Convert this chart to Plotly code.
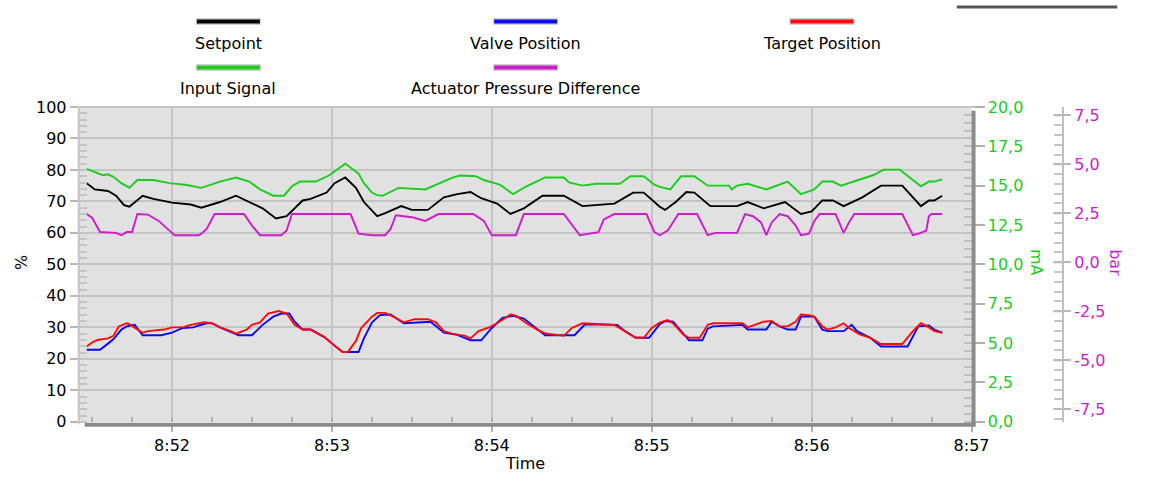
import pandas as pd
import plotly.graph_objects as go

# the page adds an 8px body margin on every side; the figure fills the rest
PAGE_W, PAGE_H, BODY_MARGIN = 1167, 492, 8
W, H = PAGE_W - 2 * BODY_MARGIN, PAGE_H - 2 * BODY_MARGIN
BASE = "2024-01-01 08:52:00"

# ---- data (seconds relative to 08:52:00) ----
setpoint_t = [-32, -29, -24, -21, -18, -16, -11, -7, 0, 7, 11, 18, 24, 29, 34, 39, 43, 49, 52, 58, 61, 65, 69, 72, 75, 77, 80, 86, 90, 96, 102, 107, 112, 116, 122, 127, 132, 139, 147, 154, 166, 173, 177, 183, 185, 189, 193, 196, 202, 212, 216, 222, 230, 236, 240, 244, 248, 252, 259, 266, 274, 278, 281, 284, 286, 289]
setpoint_v = [75.8, 73.8, 73.3, 71.8, 68.8, 68.3, 71.8, 70.8, 69.6, 69.0, 68.0, 69.8, 71.8, 69.8, 67.8, 64.6, 65.3, 70.3, 70.8, 72.8, 75.8, 77.6, 74.3, 69.8, 67.3, 65.3, 66.3, 68.5, 67.3, 67.3, 71.3, 72.3, 73.0, 71.0, 69.3, 66.0, 67.8, 71.8, 71.8, 68.5, 69.3, 72.8, 72.8, 68.3, 67.3, 69.8, 73.0, 72.8, 68.5, 68.5, 69.8, 67.8, 69.8, 66.0, 66.8, 70.3, 70.3, 68.5, 71.3, 75.0, 75.0, 71.3, 68.5, 70.3, 70.3, 71.8]

valve_t = [-32, -27, -25, -22, -19, -17, -14, -11, -4, 0, 4, 8, 10, 13, 15, 18, 25, 30, 34, 38, 41, 44, 46, 49, 52, 57, 61, 64, 70, 72, 75, 78, 82, 87, 97, 102, 107, 112, 116, 120, 124, 128, 132, 137, 140, 151, 155, 167, 170, 174, 179, 183, 185, 188, 192, 194, 199, 201, 203, 214, 216, 223, 225, 228, 231, 234, 236, 241, 244, 246, 252, 255, 257, 262, 266, 276, 280, 284, 286, 289]
valve_v = [22.9, 22.9, 24.2, 26.2, 29.3, 30.3, 30.8, 27.5, 27.5, 28.3, 29.8, 30.0, 30.6, 31.3, 31.3, 30.0, 27.5, 27.5, 30.8, 33.4, 34.4, 34.4, 31.8, 29.3, 29.3, 27.0, 24.2, 22.2, 22.2, 26.5, 31.5, 33.9, 34.1, 31.3, 31.8, 28.3, 27.6, 25.9, 25.9, 29.8, 33.0, 33.7, 32.8, 29.3, 27.5, 27.5, 31.0, 30.8, 28.8, 26.7, 26.7, 31.0, 32.0, 31.8, 27.8, 25.9, 25.9, 29.6, 30.3, 30.8, 29.3, 29.3, 31.8, 30.3, 29.3, 29.3, 33.4, 33.4, 29.3, 28.8, 28.8, 30.8, 28.8, 26.7, 23.9, 23.9, 30.3, 30.6, 29.3, 28.3]

target_t = [-32, -30, -28, -24, -22, -20, -17, -16, -13, -11, -9, -3, 0, 4, 7, 12, 15, 18, 22, 24, 28, 30, 33, 36, 40, 43, 46, 49, 52, 57, 61, 64, 66, 69, 71, 75, 77, 80, 83, 87, 91, 96, 99, 102, 105, 110, 112, 115, 119, 122, 127, 129, 133, 137, 140, 147, 150, 154, 166, 170, 174, 177, 180, 183, 186, 188, 192, 194, 198, 201, 203, 214, 216, 222, 225, 228, 231, 234, 236, 239, 241, 244, 246, 249, 252, 254, 258, 262, 266, 274, 278, 281, 284, 286, 289]
target_v = [23.9, 25.2, 26.0, 26.5, 27.3, 30.3, 31.3, 31.0, 29.3, 28.3, 28.8, 29.3, 30.0, 30.0, 30.8, 31.6, 31.3, 30.0, 28.8, 28.0, 29.3, 30.8, 31.6, 34.4, 35.2, 34.4, 30.8, 29.3, 29.3, 27.0, 24.2, 22.2, 22.2, 25.7, 29.8, 33.4, 34.6, 34.6, 33.4, 31.6, 32.6, 32.6, 31.6, 28.8, 28.0, 27.3, 26.5, 28.8, 30.0, 31.3, 34.1, 33.7, 31.3, 29.3, 28.1, 27.3, 29.8, 31.3, 30.8, 28.8, 26.7, 26.7, 29.8, 31.5, 32.3, 31.3, 27.6, 26.7, 26.7, 30.8, 31.3, 31.3, 30.0, 31.8, 32.0, 30.3, 30.3, 31.8, 34.1, 33.9, 33.4, 30.3, 29.3, 30.0, 31.3, 29.8, 27.8, 26.7, 24.7, 24.7, 28.8, 31.3, 30.0, 28.8, 28.3]

input_t = [-32, -28, -26, -24, -22, -19, -16, -13, -7, -1, 5, 11, 18, 24, 29, 33, 38, 42, 45, 48, 54, 59, 65, 70, 72, 75, 77, 79, 85, 95, 100, 105, 108, 114, 117, 123, 128, 133, 140, 147, 149, 154, 159, 168, 172, 177, 181, 183, 187, 191, 196, 201, 209, 210, 212, 216, 223, 231, 236, 241, 244, 248, 251, 257, 263, 267, 273, 278, 281, 284, 286, 289]
input_v = [16.06, 15.8, 15.66, 15.72, 15.56, 15.16, 14.86, 15.36, 15.36, 15.16, 15.06, 14.86, 15.26, 15.52, 15.26, 14.76, 14.36, 14.36, 14.96, 15.26, 15.26, 15.66, 16.4, 15.76, 15.16, 14.56, 14.4, 14.36, 14.86, 14.76, 15.12, 15.5, 15.64, 15.6, 15.36, 15.06, 14.46, 14.96, 15.52, 15.52, 15.2, 15.0, 15.12, 15.12, 15.6, 15.6, 15.06, 14.92, 14.76, 15.6, 15.6, 15.0, 15.0, 14.76, 15.0, 15.12, 14.76, 15.26, 14.46, 14.76, 15.26, 15.26, 15.0, 15.32, 15.66, 16.02, 16.02, 15.36, 14.96, 15.26, 15.26, 15.4]

pressure_t = [-32, -30, -27, -21, -19, -17, -15, -13, -9, -5, 0, 1, 10, 11, 13, 16, 27, 30, 33, 41, 43, 45, 67, 70, 75, 80, 82, 84, 90, 95, 100, 113, 117, 120, 129, 132, 147, 153, 160, 162, 166, 178, 181, 183, 186, 190, 197, 199, 201, 204, 212, 215, 218, 221, 223, 225, 228, 231, 234, 236, 239, 241, 243, 249, 250, 252, 254, 256, 274, 276, 278, 281, 283, 284, 285, 289]
pressure_v = [2.46, 2.27, 1.54, 1.50, 1.38, 1.54, 1.54, 2.46, 2.43, 2.11, 1.50, 1.38, 1.38, 1.46, 1.70, 2.46, 2.46, 1.87, 1.38, 1.38, 1.62, 2.46, 2.46, 1.46, 1.38, 1.38, 1.70, 2.40, 2.30, 2.11, 2.46, 2.46, 2.11, 1.38, 1.38, 2.46, 2.46, 1.38, 1.54, 2.19, 2.46, 2.46, 1.54, 1.38, 1.62, 2.46, 2.46, 1.95, 1.38, 1.50, 1.50, 2.46, 2.35, 2.03, 1.38, 2.03, 2.46, 2.35, 1.87, 1.38, 1.46, 2.11, 2.46, 2.46, 2.11, 1.50, 2.03, 2.46, 2.46, 1.95, 1.38, 1.50, 1.62, 2.35, 2.46, 2.46]

series_names = ["Setpoint", "Valve Position", "Target Position", "Input Signal", "Actuator Pressure Difference"]
series_colors = ["#000000", "#0a0aee", "#ff0a0a", "#1ccc1c", "#cc1ccc"]

pct_ticks = list(range(0, 101, 10))
ma_ticks = [0, 2.5, 5, 7.5, 10, 12.5, 15, 17.5, 20]
bar_ticks = [-7.5, -5, -2.5, 0, 2.5, 5, 7.5]
bar_tick_labels = ["-7,5", "-5,0", "-2,5", "0,0", "2,5", "5,0", "7,5"]
x_tick_minutes = ["08:52", "08:53", "08:54", "08:55", "08:56", "08:57"]


def to_time(secs):
    return pd.Timestamp(BASE) + pd.to_timedelta(secs, unit="s")


def px(x):
    """page pixel x -> paper coordinate"""
    return (x - BODY_MARGIN) / W


def py(y):
    """page pixel y -> paper coordinate"""
    return 1 - (y - BODY_MARGIN) / H


FONT = "DejaVu Sans"
GREEN = "#1ccc1c"
MAGENTA = "#cc1ccc"
TICKSIZE = 16
LW = 1.9

fig = go.Figure()
fig.add_trace(go.Scatter(x=to_time(input_t), y=input_v, yaxis="y2", mode="lines",
                         line=dict(color=series_colors[3], width=LW), name=series_names[3]))
fig.add_trace(go.Scatter(x=to_time(setpoint_t), y=setpoint_v, mode="lines",
                         line=dict(color=series_colors[0], width=LW), name=series_names[0]))
fig.add_trace(go.Scatter(x=to_time(pressure_t), y=pressure_v, yaxis="y3", mode="lines",
                         line=dict(color=series_colors[4], width=LW), name=series_names[4]))
fig.add_trace(go.Scatter(x=to_time(valve_t), y=valve_v, mode="lines",
                         line=dict(color=series_colors[1], width=LW), name=series_names[1]))
fig.add_trace(go.Scatter(x=to_time(target_t), y=target_v, mode="lines",
                         line=dict(color=series_colors[2], width=LW), name=series_names[2]))

x_left, x_right, y_top, y_bot = 88, 995, 110, 438

fig.update_layout(
    width=W, height=H,
    margin=dict(l=0, r=0, t=0, b=0),
    paper_bgcolor="white", plot_bgcolor="#e1e1e1",
    showlegend=False,
    separators=",.",
    font=dict(family=FONT, size=TICKSIZE, color="black"),
    xaxis=dict(
        domain=[px(x_left), px(x_right)],
        range=[to_time(-35), to_time(300)],
        tickvals=[pd.Timestamp("2024-01-01 " + m) for m in x_tick_minutes],
        tickformat="%-H:%M",
        showgrid=True, gridcolor="#c4c4c4", gridwidth=2,
        ticks="outside", ticklen=9, tickcolor="#b0b0b0", tickwidth=2,
        minor=dict(dtick=15000, ticks="inside", ticklen=5, tickcolor="#b0b0b0", showgrid=False),
        showline=False, zeroline=False,
        tickfont=dict(size=TICKSIZE, family=FONT),
    ),
    yaxis=dict(
        domain=[py(y_bot), py(y_top)],
        range=[0, 100], tickvals=pct_ticks,
        showgrid=True, gridcolor="#c4c4c4", gridwidth=2,
        ticks="outside", ticklen=8, tickcolor="#b8b8b8", tickwidth=2,
        minor=dict(dtick=2, ticks="inside", ticklen=8, tickcolor="#c4c4c4", showgrid=False),
        showline=False, zeroline=False,
        tickfont=dict(size=TICKSIZE, family=FONT),
    ),
    yaxis2=dict(
        overlaying="y", side="right", anchor="x",
        range=[0, 20], tickvals=ma_ticks, tickformat=".1f",
        showgrid=False, zeroline=False, showline=False,
        ticks="outside", ticklen=12, tickcolor="#b0b0b0", tickwidth=2,
        minor=dict(dtick=0.5, ticks="inside", ticklen=8, tickcolor="#c0c0c0", showgrid=False),
        tickfont=dict(size=TICKSIZE, family=FONT, color=GREEN),
    ),
    yaxis3=dict(
        overlaying="y", side="right", anchor="free", position=px(1088),
        range=[-8.15, 7.93], tickvals=bar_ticks, ticktext=bar_tick_labels,
        showgrid=False, zeroline=False,
        showline=True, linecolor="#c0c0c0", linewidth=2,
        ticks="outside", ticklen=7, tickcolor="#b8b8b8", tickwidth=2,
        minor=dict(dtick=0.5, ticks="inside", ticklen=8, tickcolor="#c4c4c4", showgrid=False),
        tickfont=dict(size=TICKSIZE, family=FONT, color=MAGENTA),
    ),
)

shapes = []
# plot frame (sunken look)
shapes.append(dict(type="line", xref="paper", yref="paper", x0=px(x_left), x1=px(x_right + 3),
                   y0=py(y_top), y1=py(y_top), line=dict(color="#c4c4c4", width=2)))
shapes.append(dict(type="line", xref="paper", yref="paper", x0=px(x_left), x1=px(x_left),
                   y0=py(y_top), y1=py(y_bot + 2), line=dict(color="#c4c4c4", width=2)))
shapes.append(dict(type="line", xref="paper", yref="paper", x0=px(94), x1=px(x_right + 4),
                   y0=py(y_bot + 3), y1=py(y_bot + 3), line=dict(color="#8c8c8c", width=4)))
shapes.append(dict(type="line", xref="paper", yref="paper", x0=px(x_right + 2), x1=px(x_right + 2),
                   y0=py(y_top + 4), y1=py(y_bot + 5), line=dict(color="#8c8c8c", width=4)))
# bar axis: major ticks also reach left of the axis line
for v in bar_ticks:
    shapes.append(dict(type="line", xref="paper", yref="y3", x0=px(1078), x1=px(1088),
                       y0=v, y1=v, line=dict(color="#b8b8b8", width=2)))
# stray toolbar line at top right
shapes.append(dict(type="line", xref="paper", yref="paper", x0=px(980), x1=px(1143),
                   y0=py(6), y1=py(6), line=dict(color="#555555", width=3)))

# custom legend
legend_pos = [(240, 21, 44), (542, 21, 44), (843, 21, 44), (240, 69, 91), (542, 69, 91)]
annotations = []
for name, color, (cx, ly, ty) in zip(series_names, series_colors, legend_pos):
    shapes.append(dict(type="line", xref="paper", yref="paper", x0=px(cx - 33), x1=px(cx + 33),
                       y0=py(ly), y1=py(ly), line=dict(color="#d0d0d0", width=7)))
    shapes.append(dict(type="line", xref="paper", yref="paper", x0=px(cx - 32), x1=px(cx + 32),
                       y0=py(ly), y1=py(ly), line=dict(color=color, width=4)))
    annotations.append(dict(xref="paper", yref="paper", x=px(cx), y=py(ty), text=name,
                            showarrow=False, xanchor="center", yanchor="middle",
                            font=dict(size=16, family=FONT, color="black")))

# axis titles
annotations.append(dict(xref="paper", yref="paper", x=px(30), y=py(272), text="%", textangle=-90,
                        showarrow=False, xanchor="center", yanchor="middle", font=dict(size=16, family=FONT)))
annotations.append(dict(xref="paper", yref="paper", x=px(1061), y=py(272), text="mA", textangle=90,
                        showarrow=False, xanchor="center", yanchor="middle",
                        font=dict(size=16, family=FONT, color=GREEN)))
annotations.append(dict(xref="paper", yref="paper", x=px(1141), y=py(272), text="bar", textangle=90,
                        showarrow=False, xanchor="center", yanchor="middle",
                        font=dict(size=16, family=FONT, color=MAGENTA)))
annotations.append(dict(xref="paper", yref="paper", x=px(541), y=py(481), text="Time",
                        showarrow=False, xanchor="center", yanchor="middle", font=dict(size=16, family=FONT)))

fig.update_layout(shapes=shapes, annotations=annotations)
fig.write_html("out.html", config={"displayModeBar": False})
